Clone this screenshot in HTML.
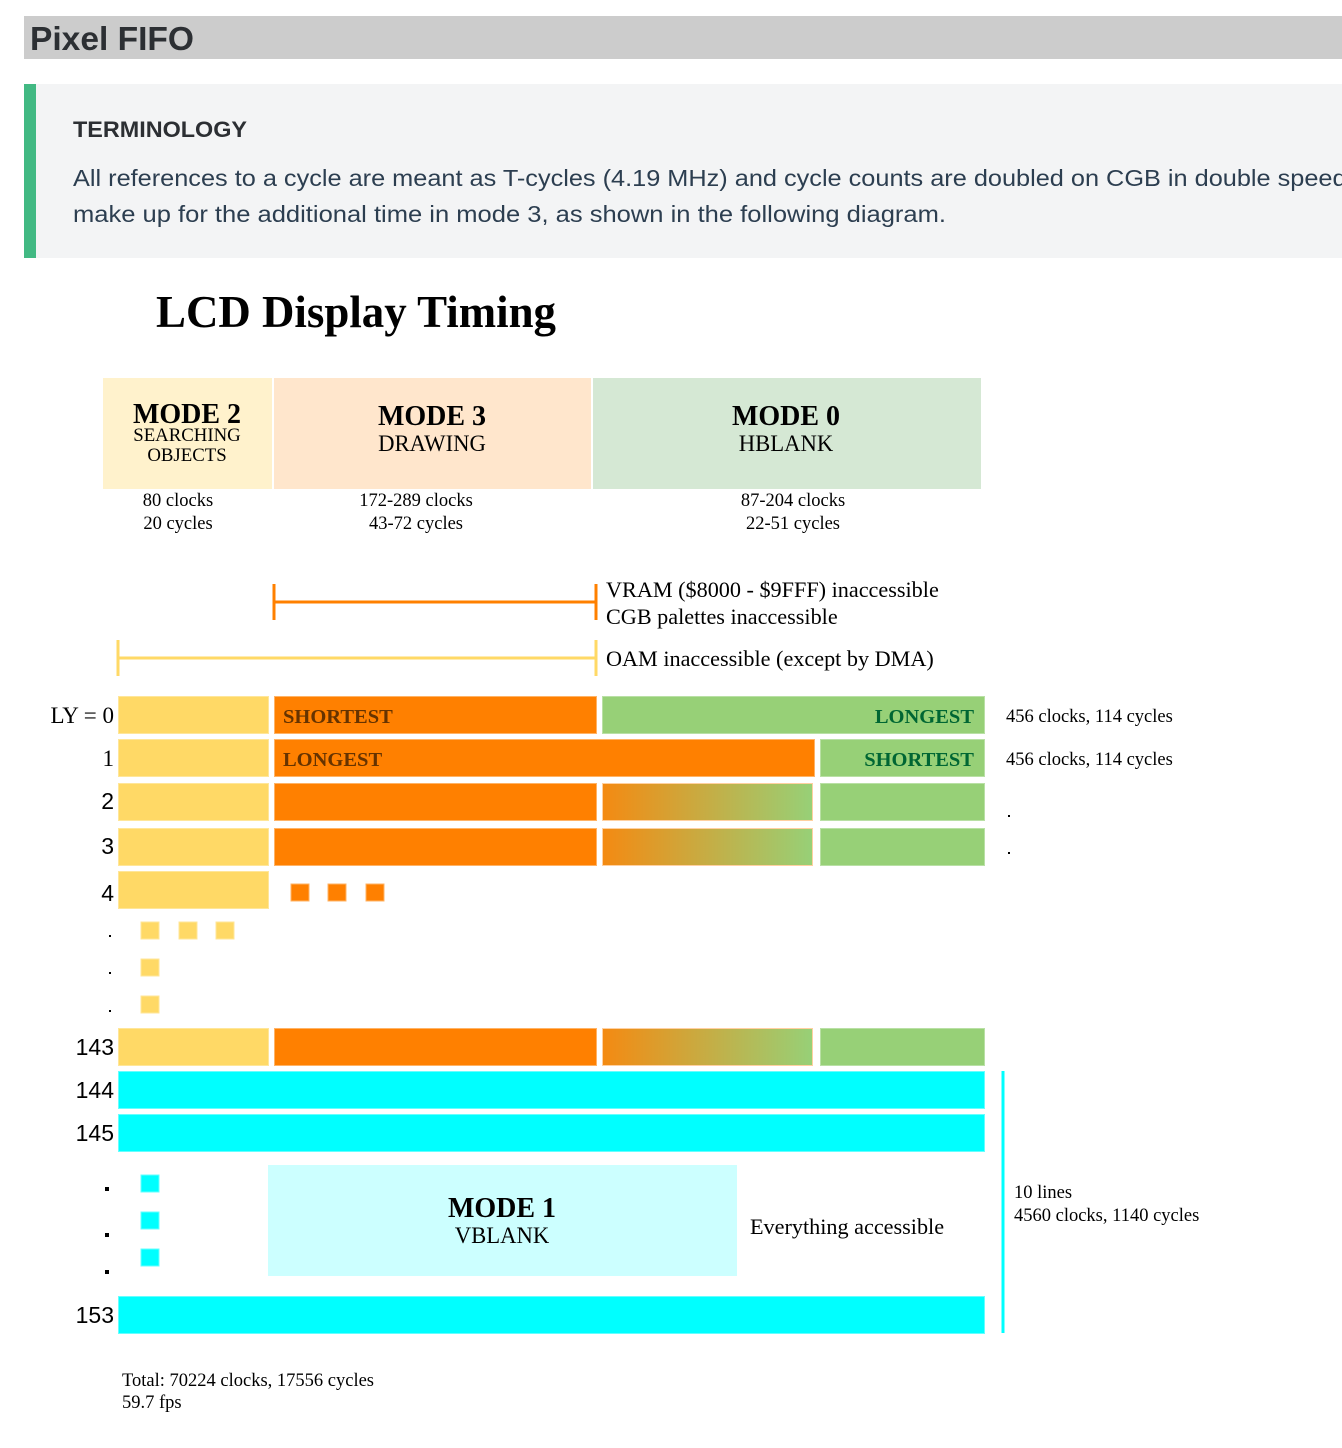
<!DOCTYPE html>
<html><head><meta charset="utf-8"><style>
html,body{margin:0;padding:0;background:#fff;width:1342px;height:1448px;overflow:hidden}
svg{display:block}
.s{font-family:"Liberation Serif",serif}
.a{font-family:"Liberation Sans",sans-serif}
</style></head><body>
<svg width="1342" height="1448" xmlns="http://www.w3.org/2000/svg">
<defs><linearGradient id="g" x1="0" x2="1" y1="0" y2="0"><stop offset="0" stop-color="#f48a12"/><stop offset="1" stop-color="#97d077"/></linearGradient></defs>
<rect x="24" y="16" width="1318" height="43" fill="#cccccc"/>
<text x="30" y="50" class="a" font-size="33" font-weight="bold" fill="#2c2f33" textLength="164" lengthAdjust="spacingAndGlyphs">Pixel FIFO</text>
<rect x="24" y="84" width="1318" height="174" fill="#f3f4f5"/>
<rect x="24" y="84" width="12" height="174" fill="#42b983"/>
<text x="73" y="137" class="a" font-size="22" font-weight="bold" fill="#2c2f33" textLength="174" lengthAdjust="spacingAndGlyphs">TERMINOLOGY</text>
<text x="73" y="186" class="a" font-size="23" fill="#2c3e50" textLength="1372" lengthAdjust="spacingAndGlyphs">All references to a cycle are meant as T-cycles (4.19 MHz) and cycle counts are doubled on CGB in double speed mode to</text>
<text x="73" y="222" class="a" font-size="23" fill="#2c3e50" textLength="873" lengthAdjust="spacingAndGlyphs">make up for the additional time in mode 3, as shown in the following diagram.</text>

<text x="156" y="327" class="s" font-size="45" font-weight="bold" textLength="400" lengthAdjust="spacingAndGlyphs">LCD Display Timing</text>

<rect x="103" y="378" width="169" height="111" fill="#fff2cc"/>
<rect x="274" y="378" width="317" height="111" fill="#ffe6cc"/>
<rect x="593" y="378" width="388" height="111" fill="#d5e8d4"/>
<g class="s" text-anchor="middle">
<text x="187" y="423" font-size="28" font-weight="bold">MODE 2</text>
<text x="187" y="441" font-size="18.8">SEARCHING</text>
<text x="187" y="461" font-size="18.8">OBJECTS</text>
<text x="432" y="425" font-size="28" font-weight="bold">MODE 3</text>
<text x="432" y="451" font-size="22.7">DRAWING</text>
<text x="786" y="425" font-size="28" font-weight="bold">MODE 0</text>
<text x="786" y="451" font-size="22.7">HBLANK</text>
<text x="178" y="506" font-size="18.5">80 clocks</text>
<text x="178" y="529" font-size="18.5">20 cycles</text>
<text x="416" y="506" font-size="18.5">172-289 clocks</text>
<text x="416" y="529" font-size="18.5">43-72 cycles</text>
<text x="793" y="506" font-size="18.5">87-204 clocks</text>
<text x="793" y="529" font-size="18.5">22-51 cycles</text>
</g>

<g stroke="#ff8000" stroke-width="3"><line x1="274" y1="602" x2="596" y2="602"/><line x1="274" y1="584" x2="274" y2="620"/><line x1="596" y1="584" x2="596" y2="620"/></g>
<g stroke="#ffd966" stroke-width="3"><line x1="118" y1="658" x2="596" y2="658"/><line x1="118" y1="640" x2="118" y2="676"/><line x1="596" y1="640" x2="596" y2="676"/></g>
<g class="s" font-size="22.2">
<text x="606" y="597">VRAM ($8000 - $9FFF) inaccessible</text>
<text x="606" y="624">CGB palettes inaccessible</text>
<text x="606" y="666">OAM inaccessible (except by DMA)</text>
<text x="750" y="1234">Everything accessible</text>
</g>

<g stroke-width="1">
<g fill="#ffd966" stroke="#ffe699">
<rect x="118.5" y="696.5" width="150" height="37"/><rect x="118.5" y="739.5" width="150" height="37"/>
<rect x="118.5" y="783.5" width="150" height="37"/><rect x="118.5" y="828.5" width="150" height="37"/>
<rect x="118.5" y="871.5" width="150" height="37"/><rect x="118.5" y="1028.5" width="150" height="37"/>
<rect x="141" y="922" width="18" height="17"/><rect x="179" y="922" width="18" height="17"/><rect x="216" y="922" width="18" height="17"/>
<rect x="141" y="959" width="18" height="17"/><rect x="141" y="996" width="18" height="17"/>
</g>
<g fill="#ff8000" stroke="#ffb366">
<rect x="274.5" y="696.5" width="322" height="37"/><rect x="274.5" y="739.5" width="540" height="37"/>
<rect x="274.5" y="783.5" width="322" height="37"/><rect x="274.5" y="828.5" width="322" height="37"/>
<rect x="274.5" y="1028.5" width="322" height="37"/>
<rect x="291" y="884" width="18" height="17"/><rect x="328" y="884" width="18" height="17"/><rect x="366" y="884" width="18" height="17"/>
</g>
<g fill="url(#g)" stroke="#ffd0a0">
<rect x="602.5" y="783.5" width="210" height="37"/><rect x="602.5" y="828.5" width="210" height="37"/><rect x="602.5" y="1028.5" width="210" height="37"/>
</g>
<g fill="#97d077" stroke="#b9e0a5">
<rect x="602.5" y="696.5" width="382" height="37"/><rect x="820.5" y="739.5" width="164" height="37"/>
<rect x="820.5" y="783.5" width="164" height="37"/><rect x="820.5" y="828.5" width="164" height="37"/>
<rect x="820.5" y="1028.5" width="164" height="37"/>
</g>
<g fill="#00ffff" stroke="#66ffff">
<rect x="118.5" y="1071.5" width="866" height="37"/><rect x="118.5" y="1114.5" width="866" height="37"/>
<rect x="118.5" y="1296.5" width="866" height="37"/>
<rect x="141" y="1175" width="18" height="17"/><rect x="141" y="1212" width="18" height="17"/><rect x="141" y="1249" width="18" height="17"/>
</g>
</g>
<rect x="268" y="1165" width="469" height="111" fill="#ccffff"/>
<text x="502" y="1217" class="s" font-size="28" font-weight="bold" text-anchor="middle">MODE 1</text>
<text x="502" y="1243" class="s" font-size="22.7" text-anchor="middle">VBLANK</text>
<line x1="1003" y1="1071" x2="1003" y2="1333" stroke="#00ffff" stroke-width="3"/>

<g class="s" font-size="20.5" font-weight="bold">
<text x="283" y="723" fill="#663300">SHORTEST</text>
<text x="283" y="766" fill="#663300">LONGEST</text>
<text x="974" y="723" fill="#006633" text-anchor="end">LONGEST</text>
<text x="974" y="766" fill="#006633" text-anchor="end">SHORTEST</text>
</g>
<g text-anchor="end" font-size="23">
<text x="114" y="723" class="s">LY = 0</text>
<text x="114" y="766" class="s">1</text>
<text x="114" y="809" class="a">2</text>
<text x="114" y="854" class="a">3</text>
<text x="114" y="901" class="a">4</text>
<text x="114" y="1055" class="a">143</text>
<text x="114" y="1098" class="a">144</text>
<text x="114" y="1141" class="a">145</text>
<text x="114" y="1323" class="a">153</text>
</g>
<g fill="#000"><rect x="109" y="935" width="2" height="2"/><rect x="109" y="972" width="2" height="2"/><rect x="109" y="1010" width="2" height="2"/>
<rect x="105" y="1187" width="4" height="4"/><rect x="105" y="1233" width="4" height="4"/><rect x="105" y="1270" width="4" height="4"/>
<rect x="1008" y="815" width="2" height="2"/><rect x="1008" y="852" width="2" height="2"/></g>
<g class="s" font-size="18.5">
<text x="1006" y="722">456 clocks, 114 cycles</text>
<text x="1006" y="765">456 clocks, 114 cycles</text>
<text x="1014" y="1198">10 lines</text>
<text x="1014" y="1221">4560 clocks, 1140 cycles</text>
<text x="122" y="1386">Total: 70224 clocks, 17556 cycles</text>
<text x="122" y="1408">59.7 fps</text>
</g>
</svg>
</body></html>
